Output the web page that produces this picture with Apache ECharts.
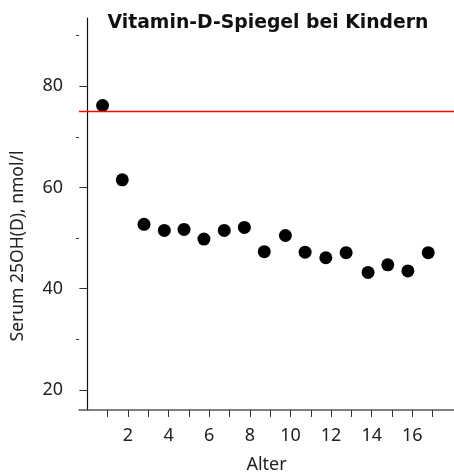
<!DOCTYPE html>
<html>
<head>
<meta charset="utf-8">
<script src="https://cdn.jsdelivr.net/npm/echarts@6/dist/echarts.min.js"></script>
<style>
  html, body { margin: 0; padding: 0; background: #fff; }
  #chart { width: 454px; height: 472px; }
</style>
</head>
<body>
<div id="chart"></div>
<script>
// Alter (Jahre) und mittlerer Serumspiegel
const alter = [0.75, 1.72, 2.79, 3.79, 4.76, 5.74, 6.74, 7.73, 8.71, 9.75, 10.72, 11.74, 12.74, 13.82, 14.79, 15.78, 16.78];
const spiegel = [76.2, 61.5, 52.7, 51.5, 51.7, 49.8, 51.5, 52.1, 47.3, 50.5, 47.2, 46.1, 47.1, 43.2, 44.7, 43.5, 47.1];
const schwelle = 75;

const xTicks = [1, 2, 3, 4, 5, 6, 7, 8, 9, 10, 11, 12, 13, 14, 15, 16, 17];
const xLabels = [2, 4, 6, 8, 10, 12, 14, 16];
const yMajor = [20, 40, 60, 80];
const yMinor = [30, 50, 70, 90];

const xMin = -0.41, xMax = 18.05;
const font = "Noto Sans";

let myChart = echarts.init(document.getElementById("chart"));
const option = {
  animation: false,
  color: ["#ff0000", "#000000"],
  textStyle: { fontFamily: font },
  title: {
    text: "Vitamin-D-Spiegel bei Kindern",
    left: 263,
    textAlign: "center",
    top: 9,
    textStyle: { fontSize: 18.8, fontWeight: "bold", color: "#111", fontFamily: "DejaVu Sans" }
  },
  grid: { left: 79, right: 0, top: 18, bottom: 62, outerBoundsMode: "none", containLabel: false },
  xAxis: {
    type: "value",
    min: xMin,
    max: xMax,
    name: "Alter",
    nameLocation: "middle",
    nameGap: 46,
    nameTextStyle: { fontSize: 18, color: "#222" },
    splitLine: { show: false },
    axisLine: { lineStyle: { color: "#555", width: 1.5 } },
    axisTick: { customValues: xTicks, length: 7, lineStyle: { color: "#333" } },
    axisLabel: { customValues: xLabels, margin: 17, fontSize: 18, color: "#222" }
  },
  yAxis: [
    {
      type: "value",
      min: 16,
      max: 93.5,
      name: "Serum 25OH(D), nmol/l",
      nameLocation: "middle",
      nameGap: 52,
      nameTextStyle: { fontSize: 17.5, color: "#222", padding: [0, 64, 0, 0] },
      splitLine: { show: false },
      axisLine: { lineStyle: { color: "#111", width: 1.2 } },
      axisTick: { customValues: yMajor, length: 8, lineStyle: { color: "#333" } },
      axisLabel: { customValues: yMajor, margin: 16, fontSize: 18, color: "#222" }
    },
    {
      type: "value",
      min: 16,
      max: 93.5,
      position: "left",
      splitLine: { show: false },
      axisLine: { show: false },
      axisTick: { customValues: yMinor, length: 3, lineStyle: { color: "#333" } },
      axisLabel: { show: false }
    }
  ],
  series: [
    {
      // Referenzwert 75 nmol/l
      type: "line",
      data: [[xMin, schwelle], [xMax, schwelle]],
      symbol: "none",
      silent: true,
      color: "#ff0000",
      itemStyle: { color: "#ff0000" },
      lineStyle: { color: "#ff0000", width: 1.5, opacity: 1 }
    },
    {
      type: "scatter",
      data: alter.map((a, i) => [a, spiegel[i]]),
      symbolSize: 13,
      itemStyle: { color: "#000", opacity: 1 }
    }
  ]
};

myChart.setOption(option);
</script>
</body>
</html>
